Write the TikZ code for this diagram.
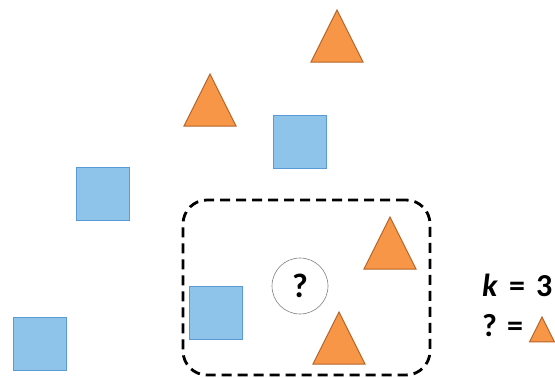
\documentclass[tikz,border=0pt]{standalone}
\usepackage{fontspec}
\setmainfont{Carlito}
\usepackage{tikz}
\usetikzlibrary{positioning}

\definecolor{sqfill}{HTML}{8EC3EA}
\definecolor{sqedge}{HTML}{5B9BD5}
\definecolor{trifill}{HTML}{F79646}
\definecolor{triedge}{HTML}{B7652A}

\tikzset{
    sq/.style={draw=sqedge, fill=sqfill, line width=1pt, minimum size=53pt, inner sep=0pt},
    tri/.pic={\draw[draw=triedge, fill=trifill, line width=1pt] (-26,26) -- (0,-26) -- (26,26) -- cycle;},
    nbhd/.style={draw, dashed, dash pattern=on 10pt off 6pt, line width=2.8pt, rounded corners=24pt},
    query/.style={circle, draw=gray, line width=0.6pt, minimum size=56pt, inner sep=0pt, font=\fontsize{34}{40}\selectfont\bfseries},
    legend/.style={font=\fontsize{32}{38}\selectfont\bfseries, inner sep=0pt}
}

\begin{document}
\begin{tikzpicture}[x=1pt, y=-1pt]
    \clip (0,0) rectangle (555,378);
    \useasboundingbox (0,0) rectangle (555,378);

    % labelled points
    \node [sq] (s1) at (299.5,141.5) {};
    \node [sq] (s2) at (102.5,193.5) {};
    \node [sq] (s3) at (40,343.5) {};
    \node [sq] (s4) at (216,312.5) {};
    \pic (t1) at (337,36) {tri};
    \pic (t2) at (210,100) {tri};
    \pic (t3) at (390,243) {tri};
    \pic (t4) at (339,338) {tri};

    % neighbourhood of the query point
    \node [nbhd, minimum width=247pt, minimum height=175pt] (box) at (306.5,287.5) {};
    \node [query] (q) at (300,286) {?};

    % legend
    \node [legend, anchor=base west] (kval) at (482,296) {\textit{k}\hspace{11pt}=\hspace{11pt}3};
    \node [legend, anchor=base west] (qval) at (482,336) {?\hspace{10pt}=};
    \pic [scale=0.48] (tq) at (542,329.5) {tri};
\end{tikzpicture}
\end{document}
